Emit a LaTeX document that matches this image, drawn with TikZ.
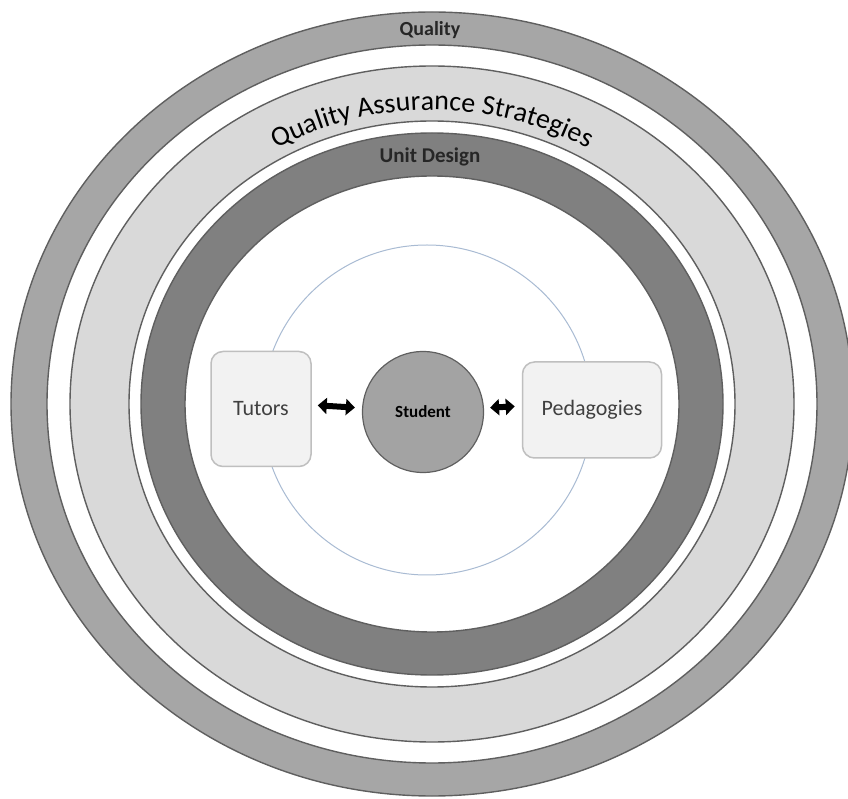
\documentclass[tikz,border=0pt]{standalone}
\usepackage{fontspec}
\setmainfont{Carlito}
\usetikzlibrary{arrows.meta,decorations.text}
\definecolor{ringmid}{HTML}{A6A6A6}
\definecolor{ringlight}{HTML}{D9D9D9}
\definecolor{ringdark}{HTML}{808080}
\definecolor{ringedge}{HTML}{5F5F5F}
\definecolor{boxfill}{HTML}{F2F2F2}
\definecolor{boxedge}{HTML}{BFBFBF}
\definecolor{studentgray}{HTML}{A3A3A3}
\definecolor{orbit}{HTML}{A9BBD3}
\definecolor{labelgray}{HTML}{404040}
\newcommand\qasfont{\fontsize{28}{32}\selectfont}
\begin{document}
\begin{tikzpicture}[x=1pt, y=1pt,
    ring/.style={draw=ringedge, line width=1.4pt},
    role/.style={draw=boxedge, line width=1.5pt, fill=boxfill, rounded corners=12pt,
        text=labelgray, inner sep=0pt, font=\fontsize{22}{26}\selectfont},
    title/.style={font=\bfseries\fontsize{20}{24}\selectfont, text=black!85},
    link/.style={line width=6pt, shorten <=6pt, shorten >=7pt,
        arrows={Triangle[length=9pt,width=16pt]-Triangle[length=9pt,width=16pt]}}]
    \useasboundingbox (0,0) rectangle (848,798);
    \coordinate (c) at (432,394);
    % rings, outside in
    \draw[ring, fill=ringmid] (c) ellipse[x radius=421, y radius=392];
    \draw[ring, fill=white] (c) ellipse[x radius=385, y radius=359];
    \draw[ring, fill=ringlight] (c) ellipse[x radius=362, y radius=338];
    \draw[ring, fill=white] (c) ellipse[x radius=303, y radius=283];
    \draw[ring, fill=ringdark] (c) ellipse[x radius=291, y radius=271];
    \draw[ring, fill=white] (c) ellipse[x radius=247, y radius=228];
    % ring labels
    \node[title] (quality) at (430,768) {Quality};
    \path[decorate, decoration={text along path, text align=center,
        text={|\qasfont|Quality Assurance Strategies}}]
        (c) ++(160:315 and 294) arc[start angle=160, end angle=20, x radius=315, y radius=294];
    \node[title, font=\bfseries\fontsize{21}{24}\selectfont] (unitdesign) at (430,641) {Unit Design};
    % inner circle
    \draw[orbit, line width=1pt] (427,388) circle[radius=165];
    \node[role, minimum width=100pt, minimum height=115pt] (tutors) at (261,389) {Tutors};
    \node[role, minimum width=139pt, minimum height=96pt] (pedagogies) at (592,388) {Pedagogies};
    \node[circle, draw=ringedge, line width=1.2pt, fill=studentgray, minimum size=121pt, inner sep=0pt,
        font=\bfseries\fontsize{17}{20}\selectfont] (student) at (423,386) {Student};
    \draw[link] ([yshift=4pt]tutors.east) -- ([yshift=4pt]student.west);
    \draw[link] ([yshift=4pt]student.east) -- ([yshift=4pt]pedagogies.west);
\end{tikzpicture}
\end{document}
